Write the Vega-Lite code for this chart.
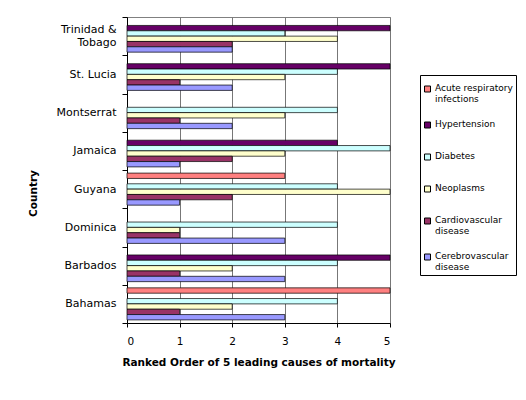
{
  "$schema": "https://vega.github.io/schema/vega-lite/v6.json",
  "width": 263,
  "height": 306,
  "autosize": "none",
  "padding": {"left": 127, "top": 17, "right": 136, "bottom": 77},
  "background": "white",
  "config": {
    "font": "DejaVu Sans",
    "view": {"stroke": "#808080", "strokeWidth": 1},
    "axis": {"labelFont": "DejaVu Sans", "titleFont": "DejaVu Sans", "labelColor": "black", "titleColor": "black", "domainColor": "black", "tickColor": "black"}
  },
  "data": {
    "values": [
      {"country": "Bahamas", "cause": "Acute respiratory infections", "rank": 5},
      {"country": "Bahamas", "cause": "Diabetes", "rank": 4},
      {"country": "Bahamas", "cause": "Neoplasms", "rank": 2},
      {"country": "Bahamas", "cause": "Cardiovascular disease", "rank": 1},
      {"country": "Bahamas", "cause": "Cerebrovascular disease", "rank": 3},
      {"country": "Barbados", "cause": "Hypertension", "rank": 5},
      {"country": "Barbados", "cause": "Diabetes", "rank": 4},
      {"country": "Barbados", "cause": "Neoplasms", "rank": 2},
      {"country": "Barbados", "cause": "Cardiovascular disease", "rank": 1},
      {"country": "Barbados", "cause": "Cerebrovascular disease", "rank": 3},
      {"country": "Dominica", "cause": "Diabetes", "rank": 4},
      {"country": "Dominica", "cause": "Neoplasms", "rank": 1},
      {"country": "Dominica", "cause": "Cardiovascular disease", "rank": 1},
      {"country": "Dominica", "cause": "Cerebrovascular disease", "rank": 3},
      {"country": "Guyana", "cause": "Acute respiratory infections", "rank": 3},
      {"country": "Guyana", "cause": "Diabetes", "rank": 4},
      {"country": "Guyana", "cause": "Neoplasms", "rank": 5},
      {"country": "Guyana", "cause": "Cardiovascular disease", "rank": 2},
      {"country": "Guyana", "cause": "Cerebrovascular disease", "rank": 1},
      {"country": "Jamaica", "cause": "Hypertension", "rank": 4},
      {"country": "Jamaica", "cause": "Diabetes", "rank": 5},
      {"country": "Jamaica", "cause": "Neoplasms", "rank": 3},
      {"country": "Jamaica", "cause": "Cardiovascular disease", "rank": 2},
      {"country": "Jamaica", "cause": "Cerebrovascular disease", "rank": 1},
      {"country": "Montserrat", "cause": "Diabetes", "rank": 4},
      {"country": "Montserrat", "cause": "Neoplasms", "rank": 3},
      {"country": "Montserrat", "cause": "Cardiovascular disease", "rank": 1},
      {"country": "Montserrat", "cause": "Cerebrovascular disease", "rank": 2},
      {"country": "St. Lucia", "cause": "Hypertension", "rank": 5},
      {"country": "St. Lucia", "cause": "Diabetes", "rank": 4},
      {"country": "St. Lucia", "cause": "Neoplasms", "rank": 3},
      {"country": "St. Lucia", "cause": "Cardiovascular disease", "rank": 1},
      {"country": "St. Lucia", "cause": "Cerebrovascular disease", "rank": 2},
      {"country": "Trinidad & Tobago", "cause": "Hypertension", "rank": 5},
      {"country": "Trinidad & Tobago", "cause": "Diabetes", "rank": 3},
      {"country": "Trinidad & Tobago", "cause": "Neoplasms", "rank": 4},
      {"country": "Trinidad & Tobago", "cause": "Cardiovascular disease", "rank": 2},
      {"country": "Trinidad & Tobago", "cause": "Cerebrovascular disease", "rank": 2}
    ]
  },
  "mark": {"type": "bar", "stroke": "black", "strokeWidth": 0.7},
  "encoding": {
    "y": {
      "field": "country",
      "type": "nominal",
      "sort": "descending",
      "scale": {"paddingInner": 0, "paddingOuter": 0},
      "axis": {
        "title": "Country",
        "titleFontSize": 10.5,
        "titleFontWeight": "bold",
        "titleX": -89,
        "titleY": 176,
        "labelFontSize": 11,
        "labelPadding": 6,
        "labelLineHeight": 13,
        "tickSize": 5,
        "tickBand": "extent",
        "labelExpr": "datum.label == 'Trinidad & Tobago' ? ['Trinidad &', 'Tobago'] : datum.label",
        "labelOffset": {"condition": {"test": "datum.value == 'Trinidad & Tobago'", "value": -6.5}, "value": 0},
        "grid": false
      }
    },
    "yOffset": {
      "field": "cause",
      "type": "nominal",
      "sort": ["Acute respiratory infections", "Hypertension", "Diabetes", "Neoplasms", "Cardiovascular disease", "Cerebrovascular disease"],
      "scale": {"paddingInner": 0, "paddingOuter": 0.58}
    },
    "x": {
      "field": "rank",
      "type": "quantitative",
      "scale": {"domain": [0, 5], "nice": false},
      "axis": {
        "title": "Ranked Order of 5 leading causes of mortality",
        "titleFontSize": 10.5,
        "titleFontWeight": "bold",
        "titlePadding": 11,
        "values": [0, 1, 2, 3, 4, 5],
        "labelFontSize": 10.5,
        "labelPadding": 9,
        "tickSize": 4,
        "grid": true,
        "gridColor": "#777777",
        "gridWidth": 1,
        "gridOpacity": 1
      }
    },
    "color": {
      "field": "cause",
      "type": "nominal",
      "scale": {
        "domain": ["Acute respiratory infections", "Hypertension", "Diabetes", "Neoplasms", "Cardiovascular disease", "Cerebrovascular disease"],
        "range": ["#FF8080", "#660066", "#CCFFFF", "#FFFFCC", "#993366", "#9999FF"]
      },
      "legend": {
        "title": null,
        "orient": "none",
        "legendX": 293,
        "legendY": 58,
        "strokeColor": "black",
        "fillColor": "white",
        "padding": 3,
        "symbolType": "square",
        "symbolSize": 36,
        "symbolStrokeColor": "black",
        "symbolStrokeWidth": 1,
        "symbolOpacity": 1,
        "labelFontSize": 9,
        "labelFont": "DejaVu Sans",
        "labelColor": "black",
        "labelOffset": 3,
        "labelLimit": 200,
        "labelBaseline": "top",
        "clipHeight": 22,
        "rowPadding": 10,
        "labelExpr": "datum.label == 'Acute respiratory infections' ? ['Acute respiratory', 'infections'] : datum.label == 'Cardiovascular disease' ? ['Cardiovascular', 'disease'] : datum.label == 'Cerebrovascular disease' ? ['Cerebrovascular', 'disease'] : datum.label",
        "encode": {"labels": {"update": {"dy": {"value": -5}}}}
      }
    }
  }
}
